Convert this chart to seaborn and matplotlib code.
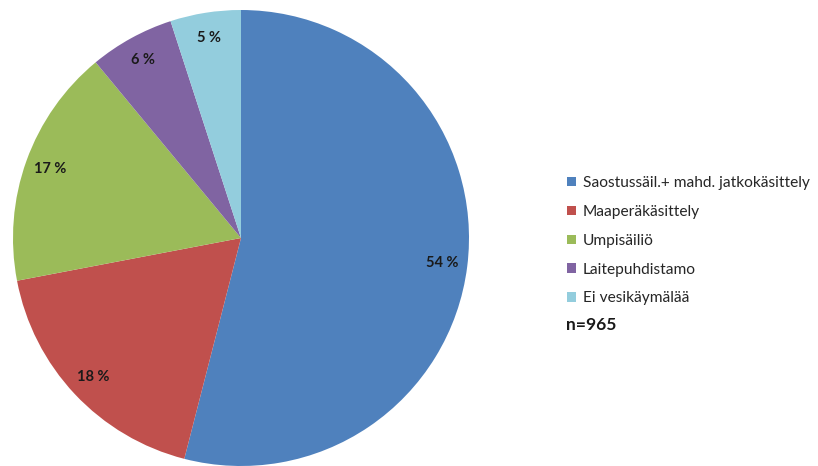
import matplotlib
matplotlib.use("Agg")
import seaborn as sns
import matplotlib.pyplot as plt

sns.set_theme(style="white")
plt.rcParams['font.family'] = ['Lato', 'DejaVu Sans']

# data
categories = ['Saostussäil.+ mahd. jatkokäsittely', 'Maaperäkäsittely',
              'Umpisäiliö', 'Laitepuhdistamo', 'Ei vesikäymälää']
shares = [54, 18, 17, 6, 5]
n_total = 965

colors = sns.color_palette(['#4F81BD', '#C0504D', '#9BBB59', '#8064A2', '#93CDDD'])

fig = plt.figure(figsize=(8.18, 4.66), dpi=100)
ax = fig.add_axes([13 / 818, 0, 456 / 818, 456 / 466])

wedges, texts, autotexts = ax.pie(
    shares, colors=colors, startangle=90, counterclock=False,
    autopct=lambda p: f'{p:.0f} %', pctdistance=0.89,
    wedgeprops=dict(linewidth=0), radius=1,
    textprops=dict(fontsize=10.5, fontweight='bold', color='#1a1a1a'))
ax.set_xlim(-1, 1)
ax.set_ylim(-1, 1)
ax.set_aspect('equal')

leg = fig.legend(wedges, categories, loc='upper left',
                 bbox_to_anchor=(561 / 818, 1 - 170 / 466), frameon=False,
                 fontsize=11.2, handlelength=0.55, handleheight=0.55,
                 handletextpad=0.45, labelspacing=0.95, borderaxespad=0)
for t in leg.get_texts():
    t.set_color('#262626')

fig.text(566 / 818, 1 - 325 / 466, f'n={n_total}', fontsize=12.5,
         fontweight='bold', va='center', ha='left', color='#1a1a1a')

fig.savefig('out.png', dpi=100)
